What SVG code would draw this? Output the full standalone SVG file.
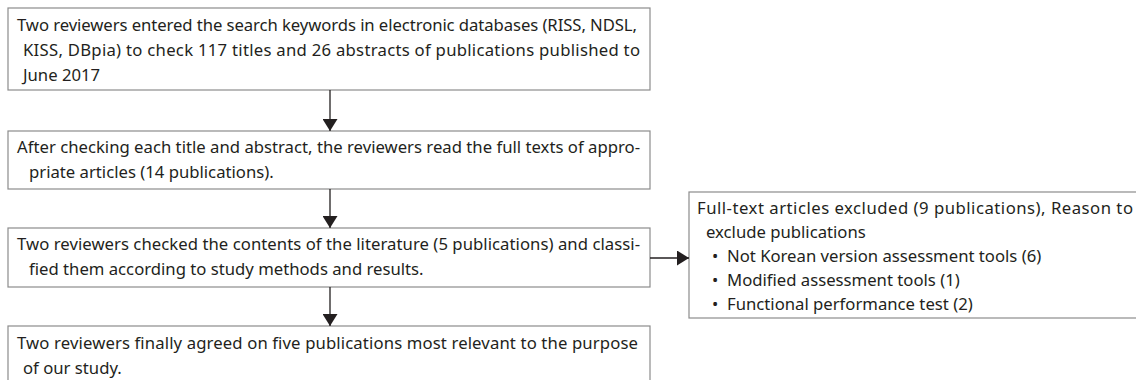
<svg xmlns="http://www.w3.org/2000/svg" width="1136" height="380" viewBox="0 0 1136 380">
<defs>
<style>
.box{fill:#fff;stroke:#8c8c8c;stroke-width:1.2}
.t{font-family:"Noto Sans","Liberation Sans",sans-serif;font-size:16.7px;fill:#231f20}
.c{stroke:#231f20;stroke-width:1.3;fill:none}
</style>
<marker id="ah" viewBox="0 0 12 15" refX="12" refY="7.5" markerWidth="12" markerHeight="15" markerUnits="userSpaceOnUse" orient="auto">
<path d="M0,0 L12,7.5 L0,15 Z" fill="#231f20"/>
</marker>
</defs>
<rect width="1136" height="380" fill="#fff"/>
<g id="n1">
<rect class="box" x="8" y="8" width="642" height="82"/>
<text class="t" x="17" y="31" textLength="620">Two reviewers entered the search keywords in electronic databases (RISS, NDSL,</text>
<text class="t" x="23" y="56" textLength="617">KISS, DBpia) to check 117 titles and 26 abstracts of publications published to</text>
<text class="t" x="23" y="81">June 2017</text>
</g>
<g id="n2">
<rect class="box" x="8" y="131" width="642" height="58"/>
<text class="t" x="17" y="153" textLength="623">After checking each title and abstract, the reviewers read the full texts of appro-</text>
<text class="t" x="29" y="178">priate articles (14 publications).</text>
</g>
<g id="n3">
<rect class="box" x="8" y="228" width="642" height="59"/>
<text class="t" x="17" y="250" textLength="623">Two reviewers checked the contents of the literature (5 publications) and classi-</text>
<text class="t" x="29" y="275">fied them according to study methods and results.</text>
</g>
<g id="n4">
<rect class="box" x="8" y="326" width="642" height="70"/>
<text class="t" x="17" y="349" textLength="621">Two reviewers finally agreed on five publications most relevant to the purpose</text>
<text class="t" x="23" y="374">of our study.</text>
</g>
<g id="n5">
<rect class="box" x="689" y="192" width="460" height="126"/>
<text class="t" x="697" y="214" textLength="436">Full-text articles excluded (9 publications), Reason to</text>
<text class="t" x="706" y="238">exclude publications</text>
<text class="t" x="712" y="262">•</text><text class="t" x="727" y="262">Not Korean version assessment tools (6)</text>
<text class="t" x="712" y="286">•</text><text class="t" x="727" y="286">Modified assessment tools (1)</text>
<text class="t" x="712" y="310">•</text><text class="t" x="727" y="310">Functional performance test (2)</text>
</g>
<g id="connectors">
<line class="c" x1="330" y1="90" x2="330" y2="131" marker-end="url(#ah)"/>
<line class="c" x1="330" y1="189" x2="330" y2="228" marker-end="url(#ah)"/>
<line class="c" x1="330" y1="287" x2="330" y2="326" marker-end="url(#ah)"/>
<line class="c" x1="650" y1="258" x2="689" y2="258" marker-end="url(#ah)"/>
</g>
</svg>
